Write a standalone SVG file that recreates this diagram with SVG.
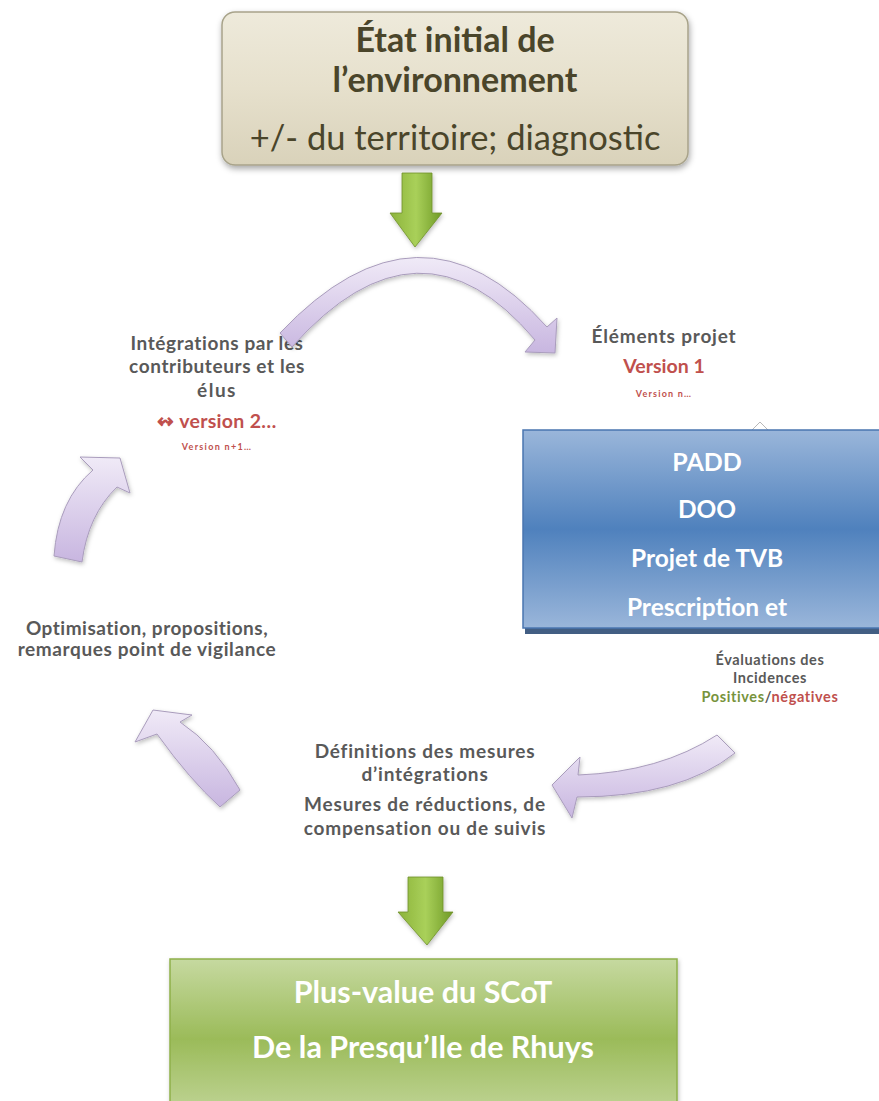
<svg xmlns="http://www.w3.org/2000/svg" width="879" height="1101" viewBox="0 0 879 1101">
<defs>
<style>
.lbl{font-family:Lato,"Open Sans","Liberation Sans",sans-serif;font-weight:bold;fill:#595959;text-anchor:middle}
.red{fill:#c0504d}
.wt{font-family:Lato,"Open Sans","Liberation Sans",sans-serif;font-weight:bold;fill:#ffffff;text-anchor:middle}
.top{font-family:Lato,"Open Sans","Liberation Sans",sans-serif;fill:#4a452a;text-anchor:middle}
.parr{stroke:#a99cbc;stroke-width:1;fill:url(#purp)}
.garr{stroke:#6e8f2c;stroke-width:0.8;fill:url(#grn)}
</style>
<linearGradient id="beige" x1="0" y1="0" x2="0" y2="1">
<stop offset="0" stop-color="#eeeadb"/><stop offset="0.5" stop-color="#e6e0cc"/><stop offset="1" stop-color="#d9d2ba"/>
</linearGradient>
<linearGradient id="blue" x1="0" y1="0" x2="0" y2="1">
<stop offset="0" stop-color="#9ab6da"/><stop offset="0.5" stop-color="#4f81bd"/><stop offset="1" stop-color="#9ab6da"/>
</linearGradient>
<linearGradient id="green" x1="0" y1="0" x2="0" y2="1">
<stop offset="0" stop-color="#c6d9a0"/><stop offset="0.5" stop-color="#9bbb59"/><stop offset="1" stop-color="#c3d69b"/>
</linearGradient>
<linearGradient id="purp" x1="0" y1="0" x2="0" y2="1">
<stop offset="0" stop-color="#f0eaf7"/><stop offset="1" stop-color="#c8b6e0"/>
</linearGradient>
<linearGradient id="grn" x1="0" y1="0" x2="1" y2="0">
<stop offset="0" stop-color="#8cb33a"/><stop offset="0.5" stop-color="#a9d05a"/><stop offset="1" stop-color="#6f9a25"/>
</linearGradient>
<filter id="sh" x="-10%" y="-10%" width="120%" height="130%">
<feDropShadow dx="1" dy="3" stdDeviation="3" flood-color="#000" flood-opacity="0.35"/>
</filter>
<filter id="sh2" x="-20%" y="-20%" width="140%" height="140%">
<feDropShadow dx="1" dy="2" stdDeviation="2" flood-color="#000" flood-opacity="0.25"/>
</filter>
<clipPath id="blueclip"><rect x="523" y="430" width="370" height="198"/></clipPath>
</defs>
<rect width="879" height="1101" fill="#ffffff"/>

<g id="etat-initial">
<rect x="222" y="12" width="466" height="153" rx="13" fill="url(#beige)" stroke="#a8a38a" stroke-width="1.5" filter="url(#sh)"/>
<text class="top" x="455" y="52" font-size="34" font-weight="bold">État initial de</text>
<text class="top" x="455" y="92" font-size="34" font-weight="bold">l’environnement</text>
<text class="top" x="455" y="150" font-size="34.5">+/- du territoire; diagnostic</text>
</g>

<g id="integrations">
<text class="lbl" x="217" y="350" font-size="19" letter-spacing="0.6">Intégrations par  les</text>
<text class="lbl" x="217" y="373" font-size="19" letter-spacing="0.6">contributeurs et les</text>
<text class="lbl" x="217" y="397" font-size="19" letter-spacing="1.5">élus</text>
<text class="lbl red" x="217" y="428" font-size="19.5" letter-spacing="0.3">↭ version 2…</text>
<text class="lbl red" x="217" y="450" font-size="9" letter-spacing="1.3">Version n+1…</text>
</g>

<g id="connectors">
<path class="garr" filter="url(#sh2)" d="M402,173 L432,173 L432,213 L442,213 L415,247 L390,213 L402,213 Z"/>
<path class="parr" filter="url(#sh2)" d="M292,347 L280,333 Q420,185 547,327 L557,318 L555,353 L525,352 L535,340 Q420,203 292,347 Z"/>
<path class="parr" filter="url(#sh2)" d="M54,556 Q58,500 93,470 L80,457 L120,458 L130,493 L117,487 Q88,515 82,562 Z"/>
<path class="parr" filter="url(#sh2)" d="M717,735 Q660,772 578,775 L580,757 L552,785 L572,818 L577,797 Q680,797 735,753 Z"/>
<path class="parr" filter="url(#sh2)" d="M240,790 Q215,745 180,722 L192,715 L153,710 L135,742 L157,734 Q190,780 220,807 Z"/>
<path class="garr" filter="url(#sh2)" d="M408,877 L443,877 L443,912 L453,912 L427,945 L398,912 L408,912 Z"/>
</g>

<g id="elements-projet">
<text class="lbl" x="664" y="343" font-size="19" letter-spacing="0.8">Éléments projet</text>
<text class="lbl red" x="664" y="373" font-size="19.5">Version 1</text>
<text class="lbl red" x="664" y="397" font-size="9" letter-spacing="1.2">Version n…</text>
</g>

<g id="padd-box">
<path d="M752,430 L760,422 L768,430" fill="#ffffff" stroke="#b8b8b8" stroke-width="1"/>
<rect x="523" y="430" width="370" height="200" fill="#2e4d76" opacity="0.9" transform="translate(2,4)"/>
<rect x="523" y="430" width="370" height="198" fill="url(#blue)" stroke="#4a76b0" stroke-width="1.5"/>
<g clip-path="url(#blueclip)">
<text class="wt" x="707" y="471" font-size="25">PADD</text>
<text class="wt" x="707" y="518" font-size="24.5">DOO</text>
<text class="wt" x="707" y="567" font-size="24.5">Projet de TVB</text>
<text class="wt" x="707" y="616" font-size="24.5">Prescription et</text>
</g>
</g>

<g id="evaluations">
<text class="lbl" x="770" y="665" font-size="14.5" letter-spacing="0.6">Évaluations des</text>
<text class="lbl" x="770" y="683" font-size="14.5" letter-spacing="0.6">Incidences</text>
<text class="lbl" x="770" y="702" font-size="14.5" letter-spacing="0.6"><tspan fill="#77933c">Positives</tspan><tspan fill="#595959">/</tspan><tspan fill="#c0504d">négatives</tspan></text>
</g>

<g id="definitions">
<text class="lbl" x="425" y="758" font-size="19" letter-spacing="0.8">Définitions des mesures</text>
<text class="lbl" x="425" y="781" font-size="19" letter-spacing="0.8">d’intégrations</text>
<text class="lbl" x="425" y="811" font-size="19" letter-spacing="0.8">Mesures de réductions, de</text>
<text class="lbl" x="425" y="835" font-size="19" letter-spacing="0.8">compensation ou de suivis</text>
</g>

<g id="optimisation">
<text class="lbl" x="147" y="635" font-size="19" letter-spacing="0.5">Optimisation,  propositions,</text>
<text class="lbl" x="147" y="656" font-size="19" letter-spacing="0.6">remarques point de vigilance</text>
</g>

<g id="plus-value">
<rect x="170" y="959" width="507" height="160" fill="url(#green)" stroke="#8eb04a" stroke-width="1.5" filter="url(#sh2)"/>
<text class="wt" x="423" y="1003" font-size="30.5">Plus-value du SCoT</text>
<text class="wt" x="423" y="1058" font-size="30.5">De la Presqu’Ile de Rhuys</text>
</g>
</svg>
